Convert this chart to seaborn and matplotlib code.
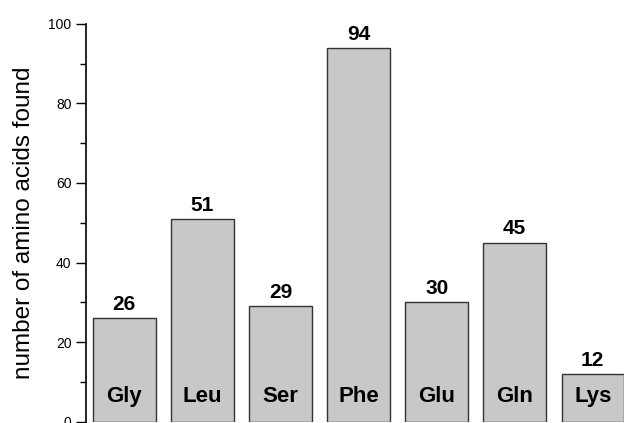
import pandas as pd
import numpy as np
import matplotlib.pyplot as plt
import seaborn as sns

### 데이터
amino = ["Gly", "Leu", "Ser", "Phe", "Glu", "Gln", "Lys"]
counts = [26, 51, 29, 94, 30, 45, 12]

df = pd.DataFrame({"amino": amino, "count": counts})

sns.set_style("ticks")
plt.rcParams["font.family"] = ["Liberation Sans", "DejaVu Sans"]
plt.rcParams["text.color"] = "black"
plt.rcParams["axes.labelcolor"] = "black"
plt.rcParams["ytick.color"] = "black"

fig = plt.figure(figsize=(6.24, 4.23), dpi=100)
ax = fig.add_axes([0.138, 0.0035, 0.862, 0.9398])

sns.barplot(data=df, x="amino", y="count", color="#c8c8c8", saturation=1,
            width=0.8, edgecolor="#333333", linewidth=1.0, ax=ax)

### 막대 위 숫자
for c in ax.containers:
    ax.bar_label(c, padding=3, fontsize=15, fontweight="bold", color="black")

### 막대 안 이름
for i, name in enumerate(amino):
    ax.text(i, 6.2, name, ha="center", va="center", fontsize=16,
            fontweight="bold", color="black")

ax.set_xlim(-0.49, 6.4)
ax.set_ylim(0, 100)
ax.set_yticks([0, 20, 40, 60, 80, 100])
ax.set_yticks([10, 30, 50, 70, 90], minor=True)
ax.tick_params(axis="y", which="major", length=7, width=1, labelsize=10,
               color="black", labelcolor="black")
ax.tick_params(axis="y", which="minor", length=4, width=1, color="black")
ax.set_xticks([])
ax.set_xlabel("")
ax.set_ylabel("number of amino acids found", fontsize=17.5, labelpad=10)

sns.despine(ax=ax, top=True, right=True, bottom=True)
ax.spines["left"].set_linewidth(1.2)
ax.spines["left"].set_color("black")

fig.savefig("out.png", dpi=100)
